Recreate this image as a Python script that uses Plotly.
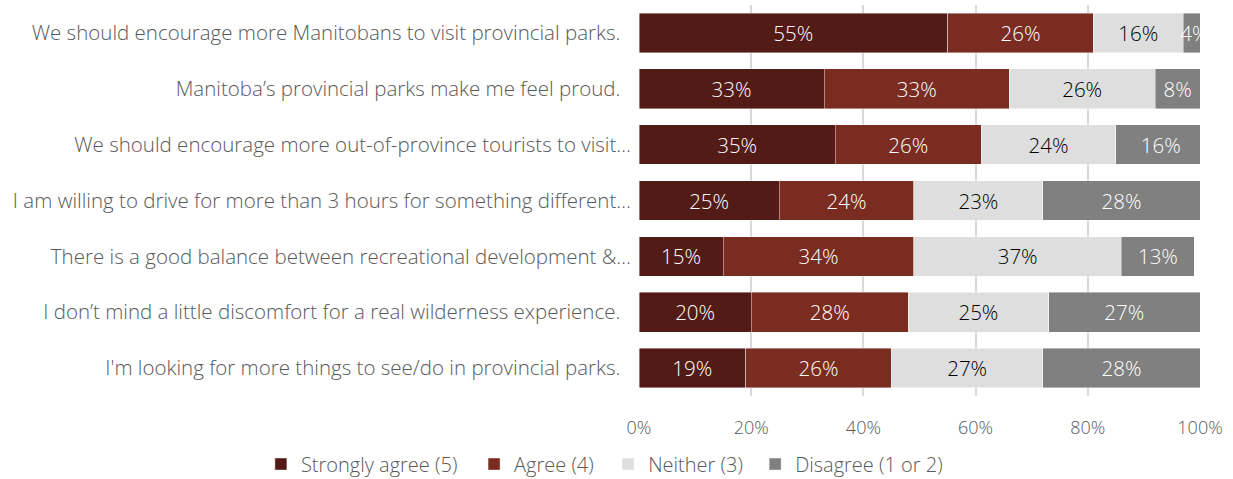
import plotly.graph_objects as go

# Survey statements (top to bottom as displayed); full statements keep a
# little trailing room, truncated ones run up to the axis
NBSP = "\u00a0"
statements = [
    "We should encourage more Manitobans to visit provincial parks." + NBSP * 2,
    "Manitoba\u2019s provincial parks make me feel proud." + NBSP * 2,
    "We should encourage more out-of-province tourists to visit\u2026",
    "I am willing to drive for more than 3 hours for something different\u2026",
    "There is a good balance between recreational development &\u2026",
    "I don\u2019t mind a little discomfort for a real wilderness experience." + NBSP * 2,
    "I'm looking for more things to see/do in provincial parks." + NBSP * 2,
]

# Response shares (%) per statement
strongly_agree = [55, 33, 35, 25, 15, 20, 19]
agree = [26, 33, 26, 24, 34, 28, 26]
neither = [16, 26, 24, 23, 37, 25, 27]
disagree = [4, 8, 16, 28, 13, 27, 28]

series = [
    ("Strongly agree (5)", strongly_agree, "#521B15", "white"),
    ("Agree (4)", agree, "#7B2C21", "white"),
    ("Neither (3)", neither, "#DEDEDE", "black"),
    ("Disagree (1 or 2)", disagree, "#808080", "white"),
]

x_ticks = [0, 20, 40, 60, 80, 100]

FONT = "Open Sans"
GREY = "#595959"

# Each series gets its own legend box so the entries can be spaced freely
legend_names = ["legend", "legend2", "legend3", "legend4"]
legend_x = [-0.674, -0.294, -0.055, 0.207]

fig = go.Figure()
for (name, vals, color, txt_color), lg in zip(series, legend_names):
    fig.add_trace(go.Bar(
        y=statements,
        x=vals,
        name=name,
        legend=lg,
        orientation="h",
        marker=dict(color=color, line=dict(color="rgba(255,255,255,0.6)", width=0.7)),
        text=[f"{v}%" for v in vals],
        textposition="inside",
        insidetextanchor="middle",
        textangle=0,
        constraintext="none",
        textfont=dict(color=txt_color, size=20.5, family=FONT, weight=300),
        hoverinfo="skip",
    ))

legend_style = dict(
    orientation="h",
    xanchor="left",
    y=-0.174, yanchor="middle",
    font=dict(size=20, color=GREY, family=FONT, weight=300),
    itemwidth=30,
    bgcolor="rgba(0,0,0,0)",
)

fig.update_layout(
    barmode="stack",
    bargap=0.29,
    width=1233,
    height=479,
    margin=dict(l=639, r=33, t=5, b=83, autoexpand=False),
    paper_bgcolor="white",
    plot_bgcolor="white",
    font=dict(family=FONT, color=GREY, size=19, weight=300),
    uniformtext=dict(minsize=20, mode="show"),
    showlegend=True,
    **{lg: dict(legend_style, x=lx) for lg, lx in zip(legend_names, legend_x)},
)

fig.update_xaxes(
    range=[0, 100],
    tickvals=x_ticks,
    ticktext=[f"{t}%" for t in x_ticks],
    showgrid=True,
    gridcolor="#D9D9D9",
    gridwidth=1.5,
    zeroline=False,
    showline=False,
    ticks="",
    ticklabelstandoff=19,
    tickfont=dict(size=18, color=GREY, family=FONT, weight=300),
    automargin=False,
    fixedrange=True,
)

fig.update_yaxes(
    categoryorder="array",
    categoryarray=statements[::-1],
    showgrid=False,
    zeroline=False,
    showline=False,
    ticks="",
    ticklabelstandoff=7,
    tickfont=dict(size=20.5, color=GREY, family=FONT, weight=300),
    automargin=False,
    fixedrange=True,
)

fig.write_html("out.html")
